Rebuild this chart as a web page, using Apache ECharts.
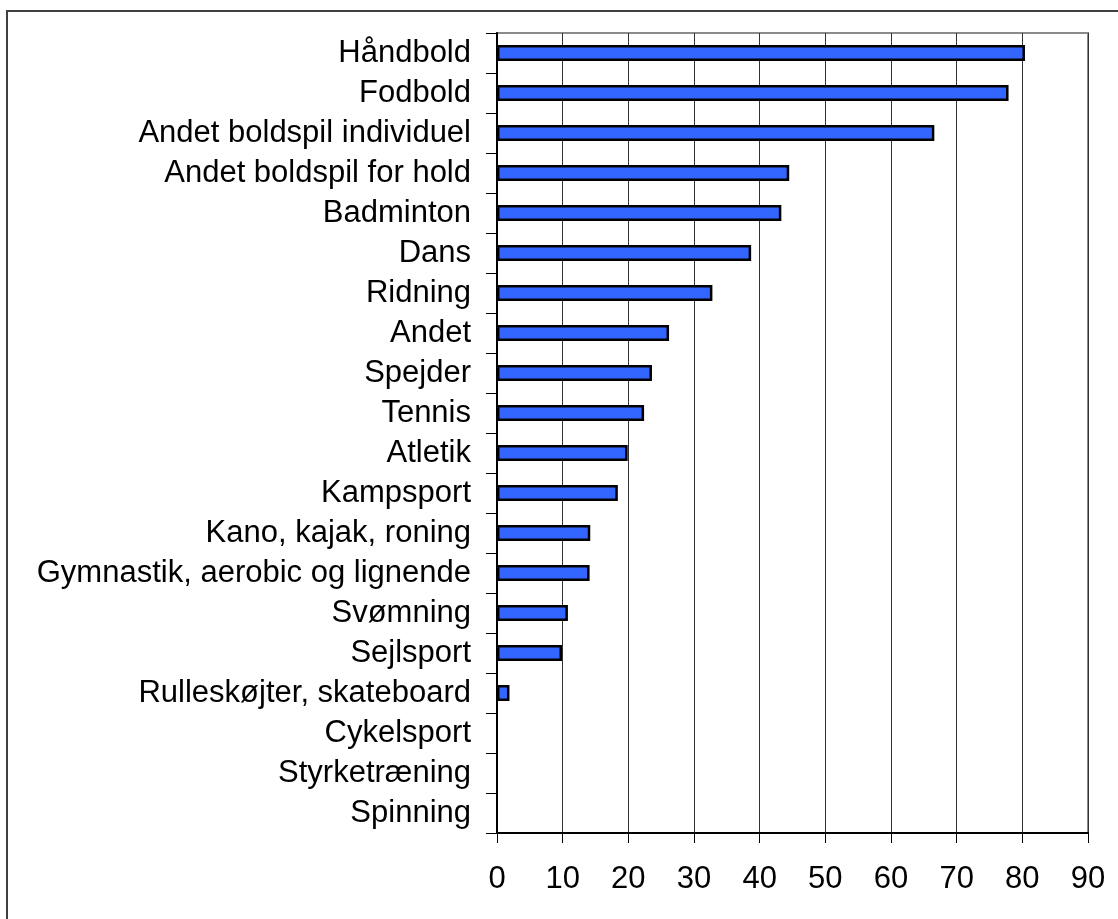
<!DOCTYPE html>
<html>
<head>
<meta charset="utf-8">
<script src="https://cdn.jsdelivr.net/npm/echarts@6/dist/echarts.min.js"></script>
<style>
  html, body { margin: 0; padding: 0; background: #fff; }
  #chart { width: 1118px; height: 919px; }
</style>
</head>
<body>
<div id="chart"></div>
<script>
// Sports, listed top to bottom
const categories = [
  'Håndbold', 'Fodbold', 'Andet boldspil individuel', 'Andet boldspil for hold',
  'Badminton', 'Dans', 'Ridning', 'Andet', 'Spejder', 'Tennis', 'Atletik',
  'Kampsport', 'Kano, kajak, roning', 'Gymnastik, aerobic og lignende',
  'Svømning', 'Sejlsport', 'Rulleskøjter, skateboard', 'Cykelsport',
  'Styrketræning', 'Spinning'
];
// Share per sport
const values = [
  80.4, 77.9, 66.6, 44.5, 43.3, 38.7, 32.8, 26.2, 23.6, 22.4, 19.9,
  18.4, 14.2, 14.1, 10.8, 9.9, 1.9, 0, 0, 0
];
// Value axis range
const axisMin = 0;
const axisMax = 90;
const axisStep = 10;

const font = '"Liberation Sans", Arial, sans-serif';
const chart = echarts.init(document.getElementById('chart'), null, { renderer: 'canvas' });

// Empty bars get no outline so nothing is drawn for them
const barData = values.map(v => v === 0
  ? { value: v, itemStyle: { borderWidth: 0 } }
  : v);

chart.setOption({
  animation: false,
  backgroundColor: '#fff',
  graphic: [{
    type: 'rect',
    shape: { x: 7, y: 11, width: 1200, height: 1000 },
    style: { fill: 'none', stroke: '#404040', lineWidth: 2 },
    silent: true
  }],
  grid: {
    left: 497, right: 30, top: 33, bottom: 86,
    show: true, borderColor: '#8a8a8a', borderWidth: 2,
    containLabel: false
  },
  xAxis: {
    type: 'value',
    min: axisMin, max: axisMax, interval: axisStep,
    axisLine: { show: true, onZero: false, lineStyle: { color: '#000', width: 2 } },
    axisTick: { show: true, length: 10, lineStyle: { color: '#000', width: 1 } },
    axisLabel: { color: '#000', fontFamily: font, fontSize: 31, margin: 31 },
    splitLine: { show: true, lineStyle: { color: '#333', width: 1 } }
  },
  yAxis: {
    type: 'category',
    data: categories,
    inverse: true,
    axisLine: { show: true, lineStyle: { color: '#000', width: 2 } },
    axisTick: { show: true, length: 11, alignWithLabel: false, lineStyle: { color: '#000', width: 1 } },
    axisLabel: { color: '#000', fontFamily: font, fontSize: 31, margin: 26, interval: 0 },
    splitLine: { show: false }
  },
  series: [{
    type: 'bar',
    data: barData,
    barWidth: 16,
    itemStyle: { color: '#3366ff', borderColor: '#000', borderWidth: 2.5 },
    silent: true
  }]
});
</script>
</body>
</html>
